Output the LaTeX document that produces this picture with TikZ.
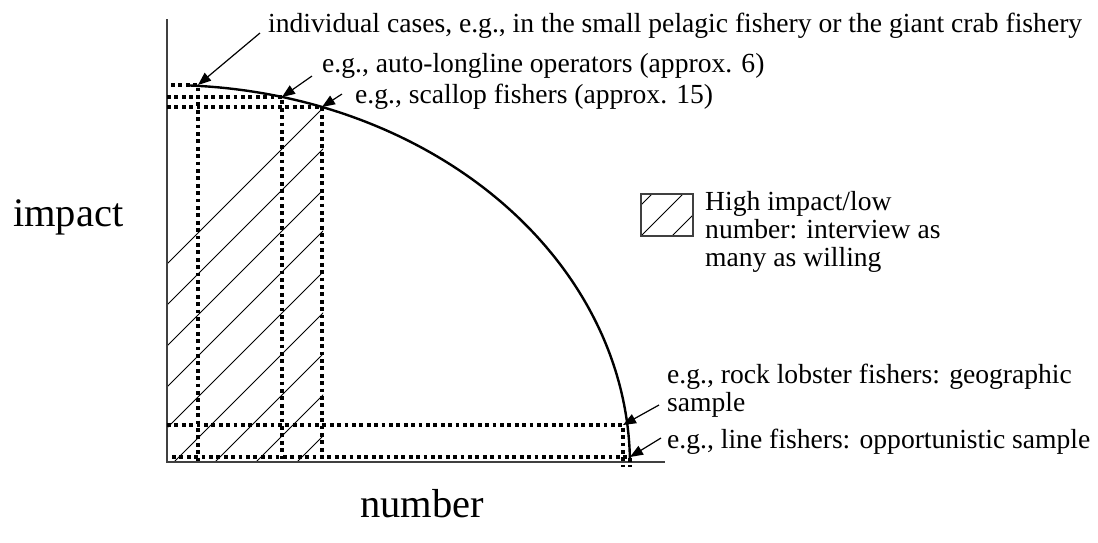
\documentclass[tikz,border=0pt]{standalone}
\usepackage{fontspec}
\setmainfont{Liberation Serif}
\usetikzlibrary{arrows.meta}
\begin{document}
\begin{tikzpicture}[x=1pt,y=-1pt,
  axisline/.style={draw=black!75,line width=1.6pt},
  dotline/.style={line width=3.8pt,dash pattern=on 3.8pt off 3.6pt},
  hatch/.style={line width=1pt},
  curveline/.style={line width=2.4pt},
  pointer/.style={line width=1.2pt,-{Triangle[length=13pt,width=10pt]}},
  lbl/.style={font=\fontsize{27.6}{28}\selectfont,anchor=base west,inner sep=0pt},
  biglbl/.style={font=\fontsize{40.5}{44}\selectfont,anchor=base west,inner sep=0pt}]
\useasboundingbox (0,0) rectangle (1098,542);
\def\ax{462}
% hatching
\begin{scope}
  \clip (167,\ax) -- (167,85) -- plot[domain=87.4:70.3,samples=40] ({167+463*cos(\x)},{465-380*sin(\x)}) -- (323,\ax) -- cycle;
  \foreach \k in {0,...,20} {
    \draw[hatch] ({167-100},{264+41*\k+100}) -- ({167+500},{264+41*\k-500});
  }
\end{scope}
% axes
\coordinate (o) at (167,\ax);
\coordinate (ytop) at (167,19);
\coordinate (xend) at (665,\ax);
\draw[axisline] (ytop) -- (o) -- (xend);
% curve
\draw[curveline] plot[domain=87.4:1.05,samples=120] ({167+463*cos(\x)},{465-380*sin(\x)});
% curve points
\coordinate (p1) at (198,85);
\coordinate (p2) at (282,97);
\coordinate (p3) at (322,107);
\coordinate (p4) at (623,425);
\coordinate (p5) at (630,457);
% dotted guides
\draw[dotline] (171,85) -- (p1) -- (198,\ax);
\draw[dotline] (167,97) -- (p2) -- (282,\ax);
\draw[dotline] (167,107) -- (p3) -- (322,\ax);
\draw[dotline] (167,425) -- (p4) -- (623,\ax+5);
\draw[dotline] (172,457) -- (p5) -- (630,\ax+5);
% labels
\node[lbl] (t1) at (268,32) {individual cases, e.g., in the small pelagic fishery or the giant crab fishery};
\node[lbl] (t2) at (322,72) {e.g., auto-longline operators (approx. 6)};
\node[lbl] (t3) at (355,103) {e.g., scallop fishers (approx. 15)};
\node[lbl] (t4) at (667,383) {e.g., rock lobster fishers: geographic};
\node[lbl] (t4b) at (667,411) {sample};
\node[lbl] (t5) at (667,448) {e.g., line fishers: opportunistic sample};
\node[lbl] (l1) at (705,210) {High impact/low};
\node[lbl] (l2) at (705,238) {number: interview as};
\node[lbl] (l3) at (705,266) {many as willing};
\node[biglbl] (yl) at (13,226) {impact};
\node[biglbl] (xl) at (360,517) {number};
% arrows
\coordinate (a1) at (260,33);
\coordinate (a2) at (312,76);
\coordinate (a3) at (342,94);
\coordinate (a4) at (659,405);
\coordinate (a5) at (661,438);
\draw[pointer] (a1) -- (p1);
\draw[pointer] (a2) -- (p2);
\draw[pointer] (a3) -- (p3);
\draw[pointer] (a4) -- (p4);
\draw[pointer] (a5) -- (p5);
% legend box
\begin{scope}
  \clip (641,194) rectangle (693,236);
  \foreach \s in {846,877,908} {\draw[hatch] ({\s-250},250) -- ({\s-180},180);}
\end{scope}
\node[draw=black!75,line width=1.5pt,minimum width=52pt,minimum height=42pt,inner sep=0pt] (leg) at (667,215) {};
\end{tikzpicture}
\end{document}
